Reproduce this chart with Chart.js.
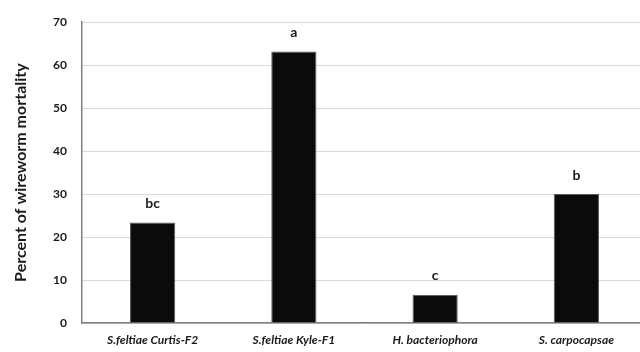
<!DOCTYPE html>
<html>
<head>
<meta charset="utf-8">
<script src="https://cdn.jsdelivr.net/npm/chart.js@4/dist/chart.umd.min.js"></script>
<style>
  html, body { margin: 0; padding: 0; background: #fff; overflow: hidden; width: 640px; height: 352px; }
  #wrap { width: 650px; height: 352px; }
</style>
</head>
<body>
<div id="wrap"><canvas id="c" width="650" height="352"></canvas></div>
<script>
// Nematode treatments and observed wireworm mortality (%)
const treatments = ['S.feltiae Curtis-F2', 'S.feltiae Kyle-F1', 'H. bacteriophora', 'S. carpocapsae'];
const mortality = [23.4, 63.2, 6.6, 30.0];
const groupLetters = ['bc', 'a', 'c', 'b'];
const yTicks = [0, 10, 20, 30, 40, 50, 60, 70];

// Draws the significance letters above each bar
const letterPlugin = {
  id: 'groupLetters',
  afterDatasetsDraw(chart) {
    const ctx = chart.ctx;
    const meta = chart.getDatasetMeta(0);
    ctx.save();
    ctx.font = 'bold 14px Lato, "Open Sans", sans-serif';
    ctx.fillStyle = '#1a1a1a';
    ctx.textAlign = 'center';
    ctx.textBaseline = 'bottom';
    meta.data.forEach((bar, i) => {
      ctx.fillText(groupLetters[i], bar.x, bar.y - 12);
    });
    ctx.restore();
  }
};

new Chart(document.getElementById('c'), {
  type: 'bar',
  data: {
    labels: treatments,
    datasets: [{
      data: mortality,
      backgroundColor: '#0b0b0b',
      borderColor: '#5a5a5a',
      borderWidth: 1,
      categoryPercentage: 1.0,
      barPercentage: 0.32
    }]
  },
  options: {
    responsive: false,
    animation: false,
    layout: { padding: { top: 16, right: 3, left: 0, bottom: 0 } },
    plugins: { legend: { display: false }, tooltip: { enabled: false } },
    scales: {
      x: {
        grid: { display: false, drawTicks: false },
        border: { color: '#7f7f7f', width: 1.5 },
        ticks: {
          color: '#1a1a1a',
          padding: 10,
          font: { family: 'Lato, "Open Sans", sans-serif', size: 12, weight: 'bold', style: 'italic' }
        },
        afterFit(scale) { scale.height = 29; }
      },
      y: {
        min: 0,
        max: 70,
        afterBuildTicks(scale) { scale.ticks = yTicks.map(v => ({ value: v })); },
        grid: { color: '#d9d9d9', lineWidth: 1, drawTicks: false },
        border: { color: '#7f7f7f', width: 1.5 },
        ticks: {
          color: '#1a1a1a',
          padding: 15,
          font: { family: 'Lato, "Open Sans", sans-serif', size: 12, weight: 'bold' }
        },
        title: {
          display: true,
          text: 'Percent of wireworm mortality',
          color: '#1a1a1a',
          padding: { top: 11, bottom: 0 },
          font: { family: 'Lato, "Open Sans", sans-serif', size: 16, weight: 'bold' }
        },
        afterFit(scale) { scale.width = 82; }
      }
    }
  },
  plugins: [letterPlugin]
});
</script>
</body>
</html>
